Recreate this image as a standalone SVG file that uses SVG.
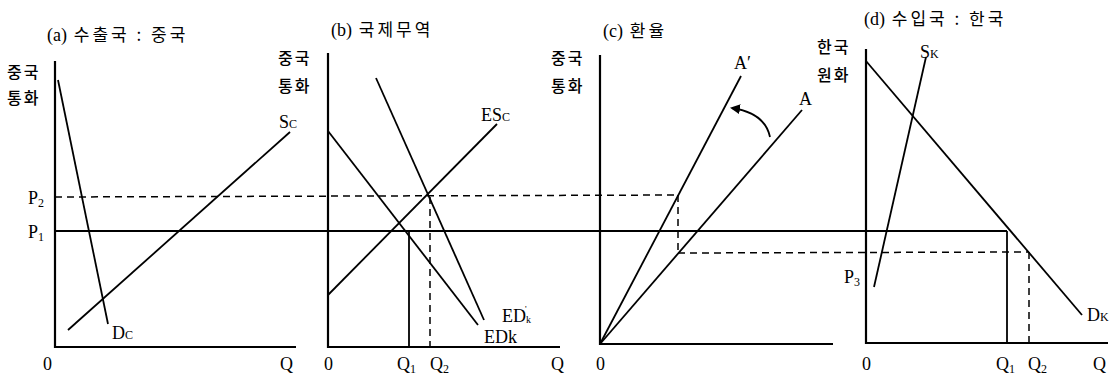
<svg xmlns="http://www.w3.org/2000/svg" width="1119" height="376" viewBox="0 0 1119 376">
<style>
.ln{stroke:#000;stroke-width:1.8;fill:none}
.ax{stroke:#000;stroke-width:2.2;fill:none}
.ds{stroke:#000;stroke-width:1.5;fill:none;stroke-dasharray:7,5}
.ko{font-family:"Noto Sans CJK KR","Noto Sans",sans-serif;font-size:16px;font-weight:500;letter-spacing:2px;fill:#000}
.ti{font-family:"Noto Sans CJK KR","Noto Sans",sans-serif;font-size:17px;letter-spacing:3px;fill:#000}
.lt{font-family:"Liberation Serif","Noto Serif",serif;font-size:18px;fill:#000}
.sub{font-size:12px}
</style>
<defs>
<marker id="ah" markerWidth="10" markerHeight="10" refX="8" refY="5" orient="auto" markerUnits="userSpaceOnUse">
<path d="M0,0 L10,5 L0,10 Z" fill="#000"/>
</marker>
</defs>
<rect width="1119" height="376" fill="#fff"/>
<g id="connectors">
<path class="ax" d="M55,61 V347 H296"/>
<path class="ax" d="M328,53 V347 H560"/>
<path class="ax" d="M600,55 V344 H833"/>
<path class="ax" d="M866,49 V343 H1108"/>
<line class="ln" x1="55" y1="231" x2="1007" y2="231"/>
<line class="ds" x1="55" y1="197" x2="678" y2="195"/>
<line class="ds" x1="678" y1="195" x2="678" y2="253"/>
<line class="ds" x1="678" y1="253" x2="1029" y2="252"/>
<line class="ln" x1="58" y1="80" x2="108" y2="324"/>
<line class="ln" x1="68" y1="330" x2="290" y2="132"/>
<line class="ln" x1="328" y1="295" x2="497" y2="124"/>
<line class="ln" x1="328" y1="131" x2="478" y2="325"/>
<line class="ln" x1="376" y1="78" x2="484" y2="320"/>
<line class="ln" x1="409" y1="231" x2="409" y2="347"/>
<line class="ds" x1="430" y1="197" x2="430" y2="347"/>
<line class="ln" x1="600" y1="344" x2="741" y2="76"/>
<line class="ln" x1="600" y1="344" x2="802" y2="110"/>
<path class="ln" d="M770,137 Q765,113 732,108" marker-end="url(#ah)"/>
<line class="ln" x1="866" y1="61" x2="1082" y2="315"/>
<line class="ln" x1="926" y1="57" x2="874" y2="287"/>
<line class="ln" x1="1007" y1="231" x2="1007" y2="343"/>
<line class="ds" x1="1029" y1="252" x2="1029" y2="343"/>
</g>
<g id="panel-a">
<text class="ti" x="47" y="41"><tspan class="lt" font-size="17" letter-spacing="0">(a)</tspan> 수출국 : 중국</text>
<text class="ko" x="7" y="78">중국</text>
<text class="ko" x="7" y="104">통화</text>
<text class="lt" x="28" y="204">P<tspan class="sub" dy="3">2</tspan></text>
<text class="lt" x="28" y="238">P<tspan class="sub" dy="3">1</tspan></text>
<text class="lt" x="279" y="128">S<tspan class="sub">C</tspan></text>
<text class="lt" x="112" y="339">D<tspan class="sub">C</tspan></text>
<text class="lt" x="43" y="370">0</text>
<text class="lt" x="280" y="370">Q</text>
</g>
<g id="panel-b">
<text class="ti" x="331" y="36"><tspan class="lt" font-size="17" letter-spacing="0">(b)</tspan> 국제무역</text>
<text class="ko" x="278" y="64">중국</text>
<text class="ko" x="278" y="92">통화</text>
<text class="lt" x="481" y="121">ES<tspan class="sub">C</tspan></text>
<text class="lt" x="502" y="322" font-size="16">ED<tspan font-size="10" dy="1">k</tspan><tspan font-size="9" dx="-6" dy="-11">'</tspan></text>
<text class="lt" x="484" y="343" font-size="15">EDk</text>
<text class="lt" x="324" y="370">0</text>
<text class="lt" x="397" y="370">Q<tspan class="sub" dy="3">1</tspan></text>
<text class="lt" x="430" y="370">Q<tspan class="sub" dy="3">2</tspan></text>
<text class="lt" x="551" y="370">Q</text>
</g>
<g id="panel-c">
<text class="ti" x="603" y="37"><tspan class="lt" font-size="17" letter-spacing="0">(c)</tspan> 환율</text>
<text class="ko" x="551" y="64">중국</text>
<text class="ko" x="551" y="92">통화</text>
<text class="lt" x="734" y="69">A′</text>
<text class="lt" x="799" y="105" font-size="15">A</text>
<text class="lt" x="596" y="370">0</text>
</g>
<g id="panel-d">
<text class="ti" x="864" y="25"><tspan class="lt" font-size="17" letter-spacing="0">(d)</tspan> 수입국 : 한국</text>
<text class="ko" x="817" y="53">한국</text>
<text class="ko" x="817" y="81">원화</text>
<text class="lt" x="920" y="58">S<tspan class="sub">K</tspan></text>
<text class="lt" x="844" y="283">P<tspan class="sub" dy="3">3</tspan></text>
<text class="lt" x="1087" y="321">D<tspan class="sub">K</tspan></text>
<text class="lt" x="862" y="370">0</text>
<text class="lt" x="996" y="370">Q<tspan class="sub" dy="3">1</tspan></text>
<text class="lt" x="1028" y="370">Q<tspan class="sub" dy="3">2</tspan></text>
<text class="lt" x="1093" y="370">Q</text>
</g>
</svg>
